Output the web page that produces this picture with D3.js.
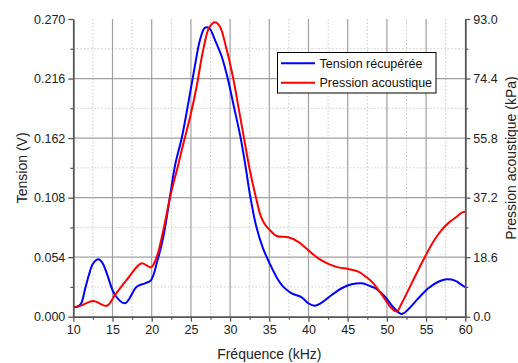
<!DOCTYPE html>
<html><head><meta charset="utf-8">
<script src="https://cdn.jsdelivr.net/npm/d3@7"></script>
<style>
html,body{margin:0;padding:0;background:#fff;}
svg{display:block;font-family:"Liberation Sans",Arial,sans-serif;}
</style></head>
<body><svg id="c" width="518" height="363"></svg>
<script>
// Data
const tensionFreq = [10.0,10.5,11.0,11.5,12.0,12.5,13.19,13.7,14.26,15.32,16.6,18.09,19.15,19.9,20.7,21.5,22.33,23.0,23.83,24.7,25.52,26.16,26.8,27.35,28.07,28.93,29.7,30.5,31.35,32.0,32.5,33.3,34.2,35.2,36.0,36.8,37.86,39.13,39.97,40.83,41.68,42.96,44.23,45.51,46.79,48.06,48.6,49.76,50.82,51.89,52.73,54.01,55.28,56.56,57.63,58.69,59.54,60.0];
const tensionV = [0.009,0.009,0.012,0.025,0.038,0.048,0.0521,0.049,0.0396,0.0197,0.0122,0.0272,0.0303,0.033,0.050,0.073,0.1088,0.138,0.162,0.195,0.228,0.251,0.2621,0.2616,0.251,0.236,0.216,0.190,0.162,0.135,0.112,0.083,0.062,0.046,0.035,0.027,0.0212,0.0176,0.0122,0.010,0.0127,0.0197,0.0258,0.0294,0.0303,0.0272,0.0255,0.0181,0.0085,0.0024,0.0067,0.0167,0.0258,0.0317,0.0339,0.0327,0.0288,0.0267];
const pressionFreq = [10.0,10.8,12.55,14.26,15.32,16.81,18.72,19.9,20.64,21.48,22.33,23.39,24.03,24.89,25.74,26.58,27.35,28.07,28.71,29.5,30.4,31.1,31.77,32.5,33.3,33.9,34.45,35.09,35.94,37.42,38.7,39.97,41.25,42.53,43.8,45.08,46.35,47.42,48.27,49.54,50.61,51.25,51.89,52.73,53.8,54.86,55.92,56.99,58.05,58.9,59.54,60.0];
const pressionKPa = [3.1,3.3,4.9,3.4,6.8,11.5,16.7,15.4,18.7,27.0,37.2,47.5,54.0,62.3,72.0,83.5,90.4,92.0,90.6,84.0,74.4,65.0,55.8,46.0,37.2,31.5,28.8,27.0,25.2,24.8,23.4,20.8,18.2,16.5,15.4,14.9,14.1,12.3,10.4,6.2,2.6,1.6,4.2,8.3,13.6,18.7,23.4,27.1,29.7,31.2,32.5,32.8];
const xTicks = [10,15,20,25,30,35,40,45,50,55,60];
const yLeftTicks = [0,0.054,0.108,0.162,0.216,0.270];
const yRightTicks = [0,18.6,37.2,55.8,74.4,93.0];
const seriesNames = ["Tension récupérée","Pression acoustique"];
const seriesColors = ["#0000ff","#ff0000"];

const svg = d3.select("#c");
const L=73.3, R=465.3, T=19, B=316.7;
const x = d3.scaleLinear().domain([10,60]).range([L,R]);
const yL = d3.scaleLinear().domain([0,0.27]).range([B,T]);
const yR = d3.scaleLinear().domain([0,93]).range([B,T]);

const xMinor = d3.range(12.5,60,5);
const yMinor = d3.range(0,5).map(i=>0.027+0.054*i);
const yRMinor = d3.range(0,5).map(i=>9.3+18.6*i);

// grid
const g = svg.append("g");
g.selectAll(".mvx").data(xMinor).join("line")
 .attr("x1",d=>x(d)).attr("x2",d=>x(d)).attr("y1",T).attr("y2",B)
 .attr("stroke","#c8c8c8").attr("stroke-width",1).attr("stroke-dasharray","1.5,2");
g.selectAll(".mhy").data(yMinor).join("line")
 .attr("x1",L).attr("x2",R).attr("y1",d=>yL(d)).attr("y2",d=>yL(d))
 .attr("stroke","#c8c8c8").attr("stroke-width",1).attr("stroke-dasharray","1.5,2");
g.selectAll(".gvx").data(xTicks.filter(d=>d>10&&d<60)).join("line")
 .attr("x1",d=>x(d)).attr("x2",d=>x(d)).attr("y1",T).attr("y2",B)
 .attr("stroke","#a0a0a0").attr("stroke-width",1.2);
g.selectAll(".ghy").data(yLeftTicks.filter(d=>d>0&&d<0.27)).join("line")
 .attr("x1",L).attr("x2",R).attr("y1",d=>yL(d)).attr("y2",d=>yL(d))
 .attr("stroke","#a0a0a0").attr("stroke-width",1.2);

// lines
const lineT = d3.line().x((d,i)=>x(tensionFreq[i])).y(d=>yL(d)).curve(d3.curveCatmullRom.alpha(0.5));
const lineP = d3.line().x((d,i)=>x(pressionFreq[i])).y(d=>yR(d)).curve(d3.curveCatmullRom.alpha(0.5));
svg.append("path").attr("d",lineT(tensionV)).attr("fill","none").attr("stroke",seriesColors[0]).attr("stroke-width",2);
svg.append("path").attr("d",lineP(pressionKPa)).attr("fill","none").attr("stroke",seriesColors[1]).attr("stroke-width",2);

// axes
const axCol = "#555";
function styleAxis(sel){
  sel.select(".domain").attr("stroke",axCol).attr("stroke-width",1.8);
  sel.selectAll(".tick line").attr("stroke",axCol).attr("stroke-width",1.3);
  sel.selectAll(".tick text").attr("fill","#222").style("font-size","12.5px").style("font-family","'Liberation Sans',Arial,sans-serif");
}
const ax = svg.append("g").attr("transform",`translate(0,${B})`)
 .call(d3.axisBottom(x).tickValues(xTicks).tickFormat(d3.format("d")).tickSize(5).tickSizeOuter(0).tickPadding(3));
styleAxis(ax);
const axm = svg.append("g").attr("transform",`translate(0,${B})`)
 .call(d3.axisBottom(x).tickValues(xMinor).tickFormat("").tickSize(3).tickSizeOuter(0));
axm.select(".domain").remove(); axm.selectAll(".tick line").attr("stroke",axCol).attr("stroke-width",1.2);

const ayl = svg.append("g").attr("transform",`translate(${L},0)`)
 .call(d3.axisLeft(yL).tickValues(yLeftTicks).tickFormat(d3.format(".3f")).tickSize(5).tickSizeOuter(0).tickPadding(3));
styleAxis(ayl);
const aylm = svg.append("g").attr("transform",`translate(${L},0)`)
 .call(d3.axisLeft(yL).tickValues(yMinor).tickFormat("").tickSize(3).tickSizeOuter(0));
aylm.select(".domain").remove(); aylm.selectAll(".tick line").attr("stroke",axCol).attr("stroke-width",1.2);

const ayr = svg.append("g").attr("transform",`translate(${R},0)`)
 .call(d3.axisRight(yR).tickValues(yRightTicks).tickFormat(d3.format(".1f")).tickSize(5).tickSizeOuter(0).tickPadding(3));
styleAxis(ayr);
const ayrm = svg.append("g").attr("transform",`translate(${R},0)`)
 .call(d3.axisRight(yR).tickValues(yRMinor).tickFormat("").tickSize(3).tickSizeOuter(0));
ayrm.select(".domain").remove(); ayrm.selectAll(".tick line").attr("stroke",axCol).attr("stroke-width",1.2);

// titles
svg.append("text").attr("x",(L+R)/2).attr("y",359).attr("text-anchor","middle")
 .style("font-size","14px").attr("fill","#222").text("Fréquence (kHz)");
svg.append("text").attr("transform",`translate(27,${(T+B)/2}) rotate(-90)`).attr("text-anchor","middle")
 .style("font-size","14px").attr("fill","#222").text("Tension (V)");
svg.append("text").attr("transform",`translate(516,158) rotate(-90)`).attr("text-anchor","middle")
 .style("font-size","14px").attr("fill","#222").text("Pression acoustique (kPa)");

// legend
const lg = svg.append("g");
lg.append("rect").attr("x",277.5).attr("y",52.5).attr("width",158.5).attr("height",40.5)
 .attr("fill","#fff").attr("stroke","#000").attr("stroke-width",1);
seriesNames.forEach((n,i)=>{
  const yy = 63.3 + i*19.4;
  lg.append("line").attr("x1",281).attr("x2",315).attr("y1",yy).attr("y2",yy)
    .attr("stroke",seriesColors[i]).attr("stroke-width",2);
  lg.append("text").attr("x",319.5).attr("y",yy+4.3).style("font-size","12.5px").attr("fill","#111").text(n);
});
</script></body></html>
